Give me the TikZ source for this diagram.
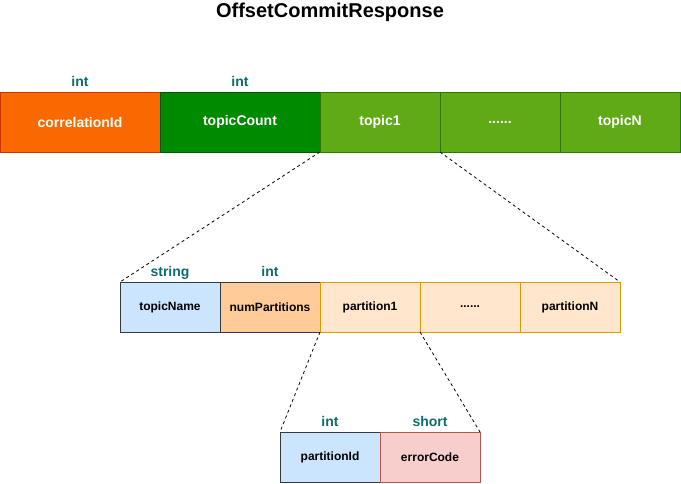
\documentclass[tikz,border=0pt]{standalone}
\usepackage{fontspec}
\setmainfont{Liberation Sans}
\usetikzlibrary{positioning}
\definecolor{orangefill}{HTML}{FA6800}
\definecolor{orangeline}{HTML}{C73500}
\definecolor{darkgreenfill}{HTML}{008A00}
\definecolor{darkgreenline}{HTML}{005700}
\definecolor{greenfill}{HTML}{60A917}
\definecolor{greenline}{HTML}{2D7600}
\definecolor{bluefill}{HTML}{CCE5FF}
\definecolor{greyline}{HTML}{36393D}
\definecolor{peachfill}{HTML}{FFCC99}
\definecolor{creamfill}{HTML}{FFE6CC}
\definecolor{creamline}{HTML}{D79B00}
\definecolor{redfill}{HTML}{F8CECC}
\definecolor{redline}{HTML}{B85450}
\definecolor{typecolor}{HTML}{0E6B6B}
\tikzset{
field/.style={rectangle, draw, text centered, inner sep=0pt, outer sep=0pt},
wide/.style={field, minimum width=160pt, minimum height=60pt, text=white, font=\fontsize{14}{16}\selectfont\bfseries},
narrow/.style={field, minimum width=100pt, minimum height=50pt, text=black, font=\fontsize{12}{14}\selectfont\bfseries},
typelabel/.style={text=typecolor, inner sep=0pt, text height=10pt, text depth=3pt, font=\fontsize{14}{16}\selectfont\bfseries},
zoomline/.style={draw, dashed, dash pattern=on 3pt off 3pt, line width=0.8pt}
}

\begin{document}
\begin{tikzpicture}[x=1pt, y=1pt]
    \useasboundingbox (0,0) rectangle (681,-483);
    % Title
    \node [anchor=base, font=\fontsize{20}{24}\selectfont\bfseries] (title) at (330,-17) {OffsetCommitResponse};
    % Place nodes
    \node [wide, anchor=north west, fill=orangefill, draw=orangeline] (corr) at (0,-92) {correlationId};
    \node [wide, right=0pt of corr, fill=darkgreenfill, draw=darkgreenline] (count) {topicCount};
    \node [wide, right=0pt of count, minimum width=120pt, fill=greenfill, draw=greenline] (topic1) {topic1};
    \node [wide, right=0pt of topic1, minimum width=120pt, fill=greenfill, draw=greenline] (topicdots) {......};
    \node [wide, right=0pt of topicdots, minimum width=120pt, fill=greenfill, draw=greenline] (topicN) {topicN};
    \node [narrow, anchor=north west, fill=bluefill, draw=greyline] (name) at (120,-282) {topicName};
    \node [narrow, right=0pt of name, fill=peachfill, draw=greyline] (numparts) {numPartitions};
    \node [narrow, right=0pt of numparts, fill=creamfill, draw=creamline] (part1) {partition1};
    \node [narrow, right=0pt of part1, fill=creamfill, draw=creamline] (partdots) {......};
    \node [narrow, right=0pt of partdots, fill=creamfill, draw=creamline] (partN) {partitionN};
    \node [narrow, anchor=north west, fill=bluefill, draw=greyline] (partid) at (280,-432) {partitionId};
    \node [narrow, right=0pt of partid, fill=redfill, draw=redline] (errcode) {errorCode};
    % Type labels
    \node [typelabel, above=2pt of corr] (corrtype) {int};
    \node [typelabel, above=2pt of count] (counttype) {int};
    \node [typelabel, above=2pt of name] (nametype) {string};
    \node [typelabel, above=2pt of numparts] (numpartstype) {int};
    \node [typelabel, above=2pt of partid] (partidtype) {int};
    \node [typelabel, above=2pt of errcode] (errcodetype) {short};
    % Draw edges
    \path [zoomline] (topic1.south west) -- (name.north west);
    \path [zoomline] (topic1.south east) -- (partN.north east);
    \path [zoomline] (part1.south west) -- (partid.north west);
    \path [zoomline] (part1.south east) -- (errcode.north east);
\end{tikzpicture}
\end{document}
